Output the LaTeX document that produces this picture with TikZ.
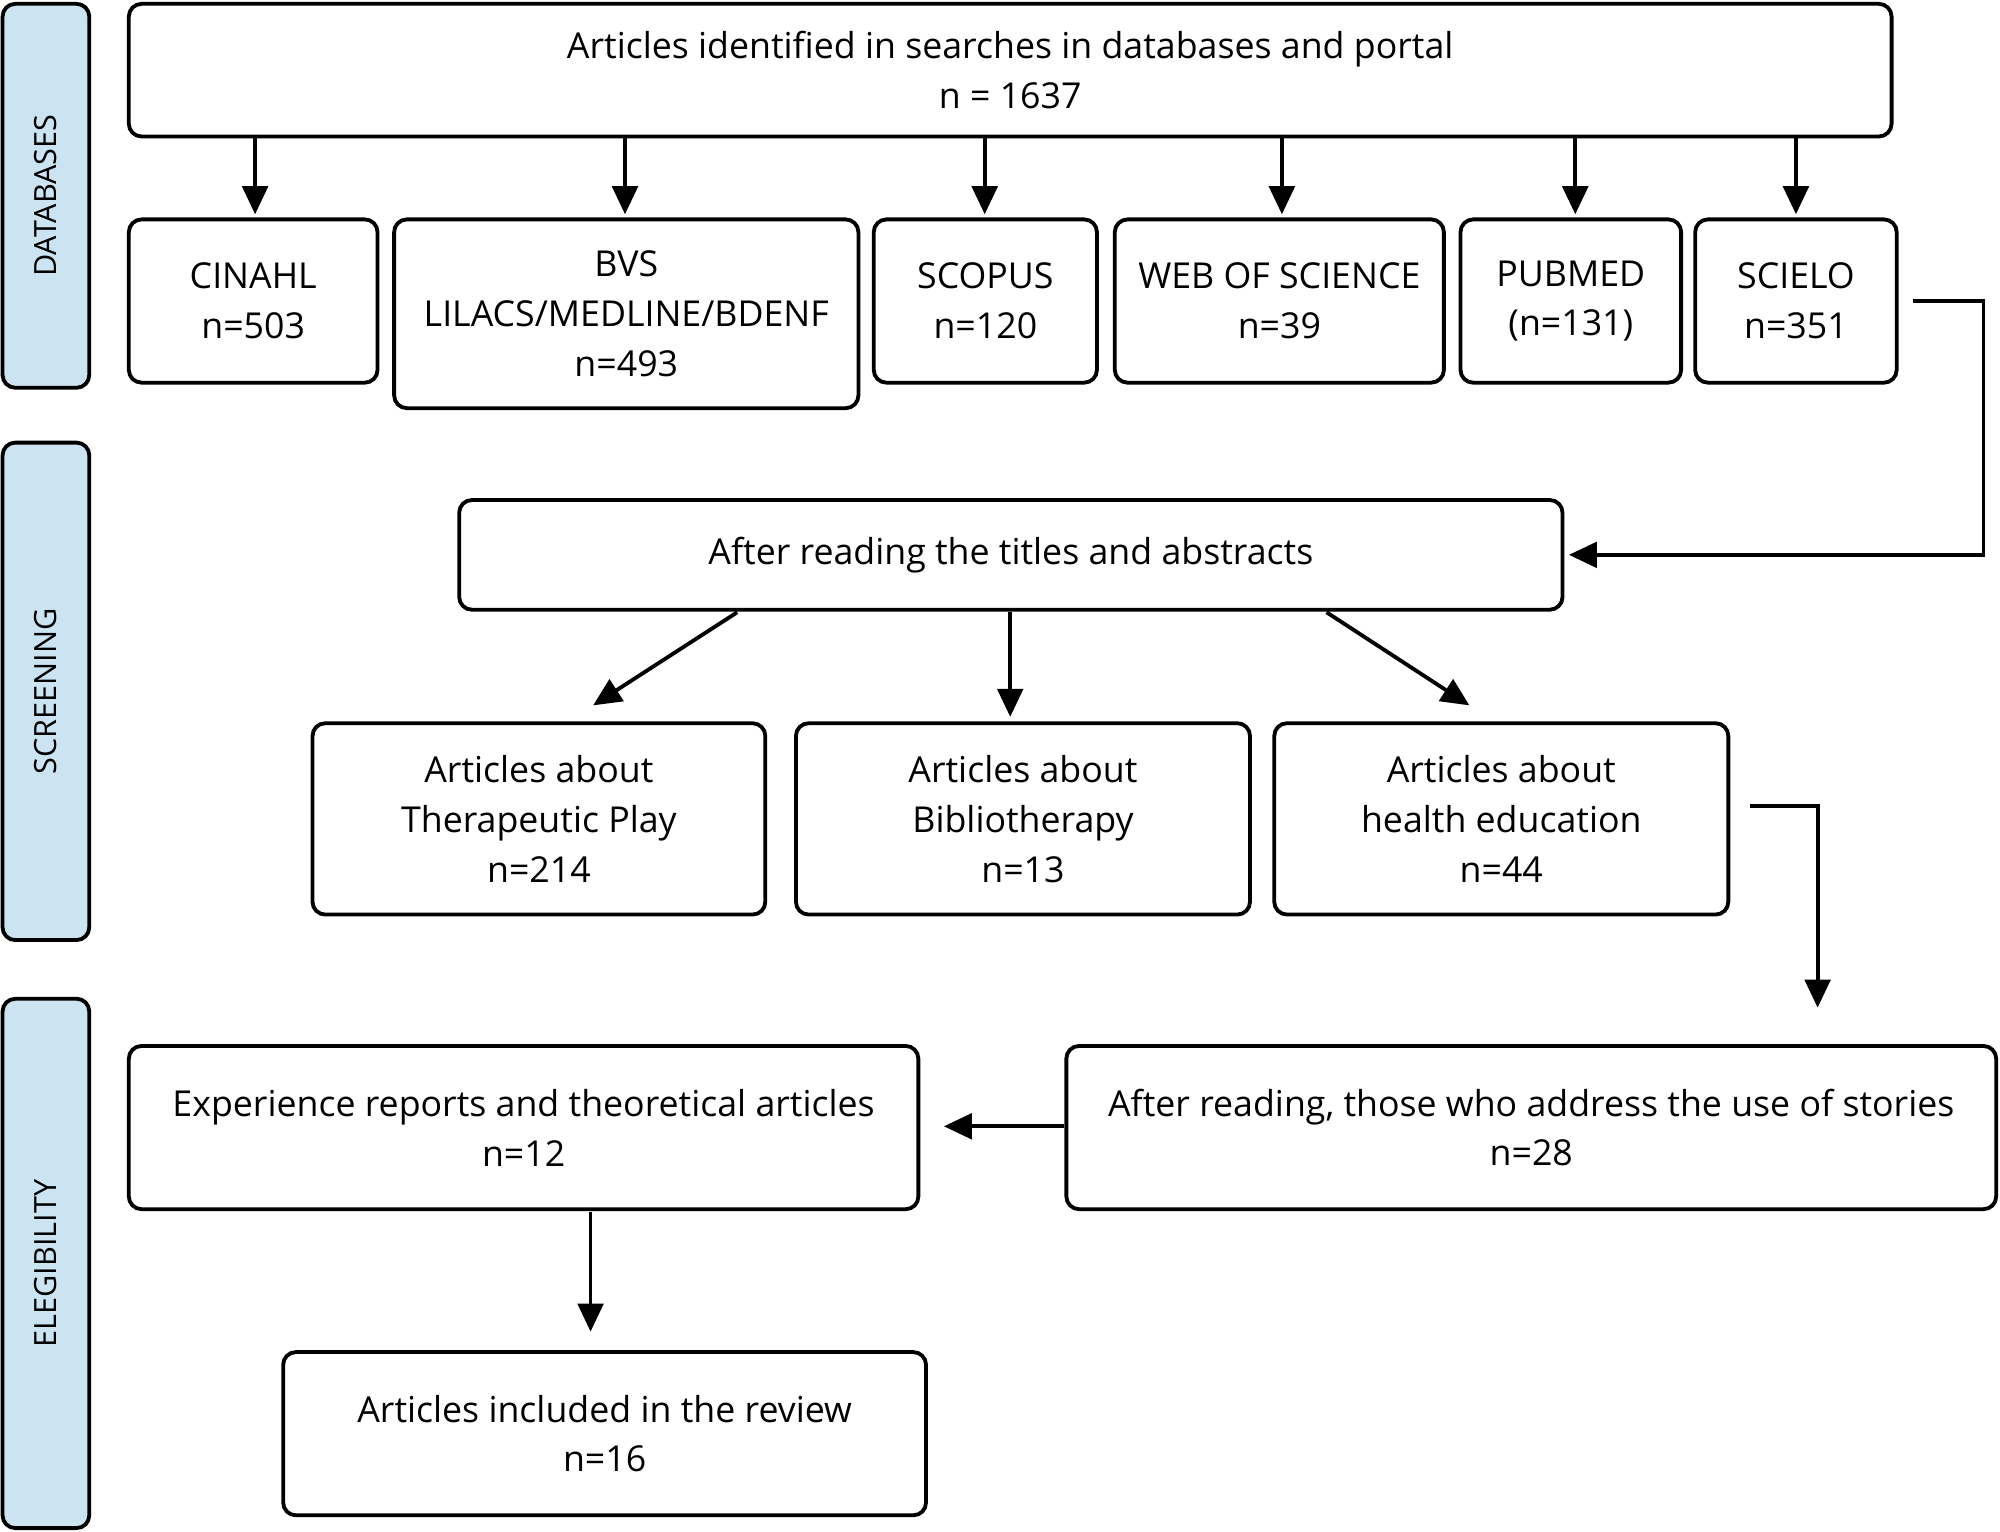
\documentclass[tikz,border=0pt]{standalone}
\usepackage{fontspec}
\setmainfont{Open Sans}
\usetikzlibrary{arrows.meta}
\definecolor{side}{HTML}{CCE3F1}
\begin{document}
\begin{tikzpicture}[x=0.5pt,y=-0.5pt,
 box/.style={draw,line width=1.5pt,rounded corners=5pt,align=center,font=\fontsize{14}{19.5}\selectfont,inner sep=0pt},
 lab/.style={draw,line width=1.5pt,fill=side,rounded corners=5pt,font=\fontsize{12}{14}\selectfont,inner sep=0pt},
 arr/.style={line width=1.5pt,-{Triangle[length=11pt,width=10pt]}}]
\useasboundingbox (0,0) rectangle (1568,1201);
\newcommand{\bx}[6]{\node[box,minimum width=(#3-#2)*0.5pt,minimum height=(#5-#4)*0.5pt] (#1) at ({(#2+#3)/2},{(#4+#5)/2}) {#6};}
\newcommand{\lb}[5]{\node[lab,minimum width=(#3-#2)*0.5pt,minimum height=(#5-#4)*0.5pt] (#1) at ({(#2+#3)/2},{(#4+#5)/2}) {};}
\lb{l1}{2}{70}{3}{304}
\lb{l2}{2}{70}{347}{737}
\lb{l3}{2}{70}{783}{1198}
\node[rotate=90,font=\fontsize{12}{14}\selectfont] (t1) at (l1) {DATABASES};
\node[rotate=90,font=\fontsize{12}{14}\selectfont] (t2) at (l2) {SCREENING};
\node[rotate=90,font=\fontsize{12}{14}\selectfont] (t3) at (l3) {ELEGIBILITY};
\bx{top}{101}{1483}{3}{107}{Articles identified in searches in databases and portal\\n = 1637}
\bx{cin}{101}{296}{172}{300}{CINAHL\\n=503}
\bx{bvs}{309}{673}{172}{320}{BVS\\LILACS/MEDLINE/BDENF\\n=493}
\bx{sco}{685}{860}{172}{300}{SCOPUS\\n=120}
\bx{wos}{874}{1132}{172}{300}{WEB OF SCIENCE\\n=39}
\bx{pub}{1145}{1318}{172}{300}{PUBMED\\(n=131)}
\bx{sci}{1329}{1487}{172}{300}{SCIELO\\n=351}
\bx{aft}{360}{1225}{392}{478}{After reading the titles and abstracts}
\bx{tp}{245}{600}{567}{717}{Articles about\\Therapeutic Play\\n=214}
\bx{bib}{624}{980}{567}{717}{Articles about\\Bibliotherapy\\n=13}
\bx{hea}{999}{1355}{567}{717}{Articles about\\health education\\n=44}
\bx{exp}{101}{720}{820}{948}{Experience reports and theoretical articles\\n=12}
\bx{sto}{836}{1565}{820}{948}{After reading, those who address the use of stories\\n=28}
\bx{inc}{222}{726}{1060}{1188}{Articles included in the review\\n=16}
\foreach \x/\n in {200/cin,490/bvs,772/sco,1005/wos,1235/pub,1408/sci}
  \draw[arr] (\x,107) -- (\x,168);
\coordinate (s1) at (1500,236); \coordinate (s2) at (1230,435);
\draw[arr] (s1) -- (1555,236) -- (1555,435) -- (s2);
\coordinate (a1) at (578,480); \coordinate (a2) at (465,553);
\coordinate (b1) at (792,480); \coordinate (b2) at (792,562);
\coordinate (c1) at (1040,480); \coordinate (c2) at (1152,553);
\draw[arr] (a1) -- (a2); \draw[arr] (b1) -- (b2); \draw[arr] (c1) -- (c2);
\coordinate (h1) at (1372,632); \coordinate (h2) at (1425,790);
\draw[arr] (h1) -- (1425,632) -- (h2);
\coordinate (e2) at (740,883);
\draw[arr] (sto.west |- e2) -- (e2);
\coordinate (i1) at (463,950); \coordinate (i2) at (463,1044);
\draw[arr] (i1) -- (i2);
\end{tikzpicture}
\end{document}
